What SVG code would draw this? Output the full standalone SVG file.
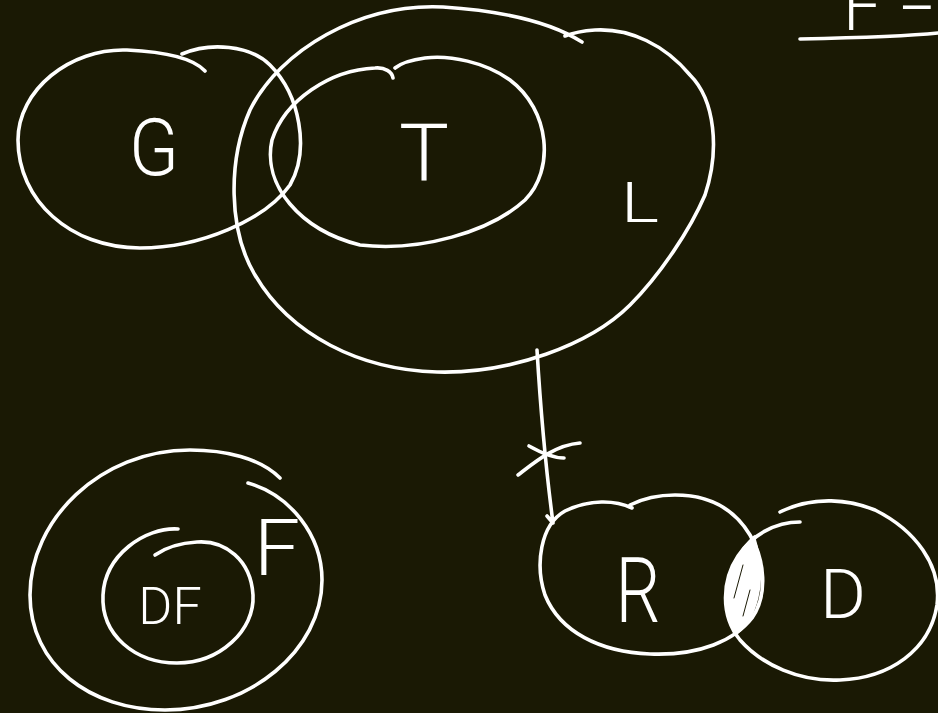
<svg xmlns="http://www.w3.org/2000/svg" width="938" height="713" viewBox="0 0 938 713">
<style>
.s{fill:none;stroke:#ffffff;stroke-width:3.6;stroke-linecap:round;stroke-linejoin:round}
.t{fill:#ffffff;font-family:Roboto,"Liberation Sans",sans-serif;font-weight:300}
</style>
<rect width="938" height="713" fill="#1a1904"/>
<g id="header">
<text class="t" x="843" y="30" font-size="68">F<tspan x="898" y="23">=</tspan></text>
<path class="s" d="M 800 39 C 850 38, 900 37, 938 33"/>
</g>
<g id="node-G">
<path class="s" d="M 205 71 C 195 60, 170 52, 127 50 C 70 48, 18 90, 18 140 C 18 200, 70 248, 140 248 C 200 248, 265 220, 290 185 C 310 150, 300 95, 270 65 C 250 45, 210 42, 182 54"/>
<text class="t" x="154" y="175" font-size="80" text-anchor="middle" textLength="50" lengthAdjust="spacingAndGlyphs">G</text>
</g>
<g id="node-L">
<path class="s" d="M 582 42 C 560 28, 520 12, 443 7 C 360 3, 280 50, 250 110 C 228 160, 228 230, 255 275 C 290 335, 360 370, 437 372 C 510 374, 590 345, 630 305 C 660 275, 690 230, 705 195 C 720 150, 715 100, 690 75 C 665 45, 630 28, 595 30 C 580 31, 570 34, 565 36"/>
<text class="t" x="640" y="222" font-size="56" text-anchor="middle" textLength="38" lengthAdjust="spacingAndGlyphs">L</text>
</g>
<g id="node-T">
<path class="s" d="M 393 78 C 392 72, 385 67, 375 68 C 330 70, 285 100, 272 140 C 262 185, 300 230, 360 245 C 420 252, 490 232, 525 200 C 555 170, 550 110, 510 80 C 485 62, 450 55, 425 58 C 410 60, 400 64, 395 68"/>
<text class="t" x="424" y="181" font-size="80" text-anchor="middle" textLength="50" lengthAdjust="spacingAndGlyphs">T</text>
</g>
<g id="node-R">
<path class="s" d="M 632 508 C 615 500, 590 499, 565 511 C 540 525, 535 565, 545 595 C 560 632, 600 652, 650 654 C 700 656, 735 640, 752 618 C 768 595, 765 560, 750 535 C 735 510, 710 495, 675 495 C 655 495, 640 500, 630 505"/>
<text class="t" x="638" y="622" font-size="90" text-anchor="middle" textLength="45" lengthAdjust="spacingAndGlyphs">R</text>
</g>
<g id="node-D">
<path class="s" d="M 800 522 C 775 522, 752 535, 738 556 C 722 580, 720 615, 740 640 C 762 665, 800 682, 840 680 C 890 678, 930 650, 937 605 C 942 565, 915 530, 875 510 C 850 500, 815 495, 780 512"/>
<text class="t" x="843" y="618" font-size="68" text-anchor="middle" textLength="46" lengthAdjust="spacingAndGlyphs">D</text>
</g>
<g id="intersection-RD">
<path d="M 754 537 C 734 555, 716 595, 737 633 C 753 620, 769 585, 754 537 Z" fill="#ffffff" stroke="#ffffff" stroke-width="2.5"/>
<path d="M 734 598 L 743 565 M 743 616 L 750 590" fill="none" stroke="#1a1904" stroke-width="1" stroke-linecap="round"/>
</g>
<g id="node-F">
<path class="s" d="M 280 478 C 260 458, 225 450, 190 450 C 100 450, 30 520, 30 595 C 30 665, 90 710, 165 710 C 250 710, 322 650, 322 580 C 322 535, 290 495, 248 483"/>
<text class="t" x="277" y="575" font-size="78" text-anchor="middle" font-weight="500" textLength="46" lengthAdjust="spacingAndGlyphs">F</text>
</g>
<g id="node-DF">
<path class="s" d="M 178 529 C 145 527, 105 555, 103 595 C 101 635, 135 663, 177 663 C 220 663, 255 630, 253 595 C 251 560, 225 540, 197 542 C 180 543, 165 548, 155 555"/>
<text class="t" x="170" y="624" font-size="52" text-anchor="middle">DF</text>
</g>
<g id="connectors">
<path class="s" d="M 537 350 C 540 400, 546 470, 553 523 L 547 516"/>
<path class="s" d="M 518 475 C 535 462, 555 445, 580 443 M 529 446 C 545 455, 555 458, 564 458"/>
</g>
</svg>
